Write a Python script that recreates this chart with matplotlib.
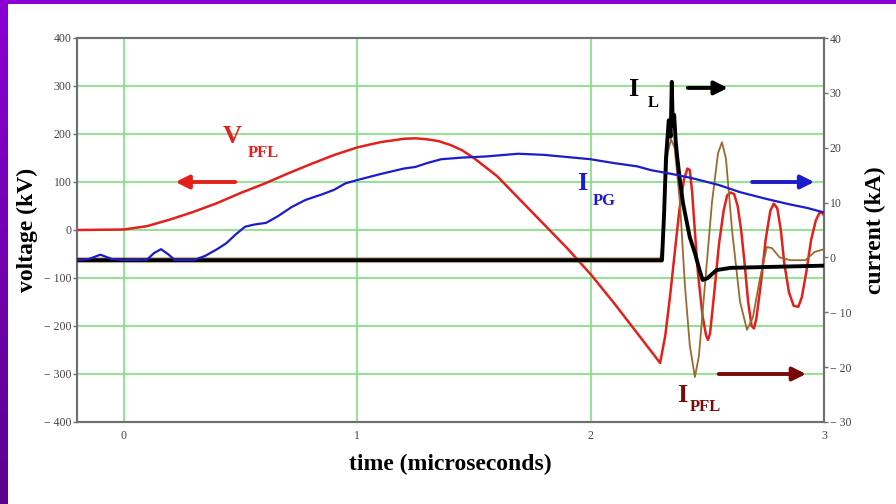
import numpy as np
import matplotlib
matplotlib.use('Agg')
import matplotlib.pyplot as plt

plt.rcParams['font.family'] = ['Liberation Serif', 'DejaVu Serif']

# V_PFL (kV, left axis)
t_vpfl = [-0.2, 0.0, 0.1, 0.2, 0.3, 0.4, 0.5, 0.6, 0.7, 0.8, 0.9, 1.0, 1.1, 1.2, 1.25,
          1.3, 1.35, 1.4, 1.45, 1.5, 1.6, 1.7, 1.8, 1.9, 2.0, 2.1, 2.2, 2.298,
          2.32, 2.34, 2.36, 2.38, 2.40, 2.415, 2.425, 2.435, 2.445, 2.46, 2.48, 2.495, 2.503,
          2.512, 2.53, 2.55, 2.57, 2.585, 2.60, 2.615, 2.63, 2.645, 2.66, 2.675, 2.69, 2.70,
          2.71, 2.73, 2.75, 2.77, 2.785, 2.80, 2.815, 2.83, 2.85, 2.87, 2.89, 2.905, 2.925,
          2.945, 2.965, 2.98, 2.99, 3.0]
v_pfl = [0, 1, 8, 22, 38, 56, 77, 96, 117, 137, 156, 172, 183, 190, 191,
         189, 185, 177, 166, 150, 112, 62, 12, -38, -92, -152, -215, -277,
         -220, -140, -50, 40, 105, 128, 125, 80, 10, -90, -180, -220, -229,
         -215, -130, -30, 40, 72, 78, 75, 50, 0, -70, -150, -200, -205,
         -185, -110, -20, 40, 55, 45, 0, -70, -130, -158, -160, -140, -85,
         -20, 20, 35, 37, 30]

# I_PG (kA, right axis)
t_ipg = [-0.2, -0.15, -0.1, -0.05, 0.0, 0.1, 0.13, 0.16, 0.19, 0.22, 0.3, 0.35, 0.4, 0.44,
         0.48, 0.52, 0.56, 0.61, 0.66, 0.72, 0.78, 0.85, 0.9, 0.95, 1.0, 1.1, 1.2, 1.25,
         1.3, 1.36, 1.45, 1.55, 1.69, 1.8, 1.9, 2.0, 2.1, 2.2, 2.26, 2.35, 2.43, 2.55,
         2.64, 2.75, 2.85, 2.93, 3.0]
i_pg = [-0.5, -0.3, 0.5, -0.3, -0.5, -0.4, 0.8, 1.5, 0.6, -0.5, -0.5, 0.3, 1.5, 2.6,
        4.2, 5.6, 6.0, 6.3, 7.5, 9.2, 10.5, 11.5, 12.3, 13.5, 14.1, 15.2, 16.2, 16.5,
        17.2, 17.9, 18.2, 18.4, 18.9, 18.7, 18.3, 17.9, 17.2, 16.6, 15.9, 15.2, 14.5, 13.2,
        11.9, 10.7, 9.7, 9.0, 8.2]

# I_L (kA, right axis)
t_il = [-0.2, 2.306, 2.315, 2.323, 2.335, 2.343, 2.348, 2.352, 2.358, 2.365, 2.372,
        2.383, 2.396, 2.425, 2.447, 2.468, 2.48, 2.5, 2.54, 2.6, 3.0]
i_l = [-0.5, -0.5, 8, 18, 25, 22, 32, 24, 26, 21, 18,
       14, 9.9, 3.7, 0.8, -2.5, -4.1, -3.8, -2.3, -1.9, -1.5]

# I_PFL (kA, right axis)
t_ipfl = [-0.2, 2.298, 2.306, 2.32, 2.33, 2.345, 2.36, 2.383, 2.404, 2.425, 2.447, 2.464,
          2.49, 2.52, 2.546, 2.563, 2.58, 2.606, 2.64, 2.67, 2.695, 2.725, 2.755, 2.777,
          2.81, 2.855, 2.92, 2.96, 3.0]
i_pfl = [-0.5, -0.5, 2, 12, 19, 21.5, 20, 10, -5, -16, -21.8, -18,
         -5, 10, 19, 21, 18, 5, -8, -13.2, -11, -4, 1.9, 1.7,
         0, -0.5, -0.5, 1, 1.5]

v_ticks = [400, 300, 200, 100, 0, -100, -200, -300, -400]
v_labels = ['400', '300', '200', '100', '0', '\u2212 100', '\u2212 200', '\u2212 300', '\u2212 400']
i_ticks = [40, 30, 20, 10, 0, -10, -20, -30]
i_labels = ['40', '30', '20', '10', '0', '\u2212 10', '\u2212 20', '\u2212 30']
t_ticks = [0, 1, 2, 3]

red = '#e3201c'
blue = '#1c1ccc'
brown = '#9a6a30'
maroon = '#7a0a0a'
grid_green = '#7ee07e'
spine_gray = '#707070'

fig = plt.figure(figsize=(8.96, 5.04), dpi=100)
fig.patch.set_facecolor('white')

# purple frame on the left and top
strip = fig.add_axes([0, 0, 8 / 896, 1])
strip.imshow(np.linspace(0, 1, 100).reshape(-1, 1), aspect='auto',
             cmap=matplotlib.colors.LinearSegmentedColormap.from_list('p', ['#8a00d2', '#5c008f']),
             extent=[0, 1, 0, 1])
strip.axis('off')
top = fig.add_axes([0, 1 - 4 / 504, 1, 4 / 504])
top.set_facecolor('#8a00d2')
top.set_xticks([]); top.set_yticks([])
for s in top.spines.values():
    s.set_visible(False)

ax = fig.add_axes([77 / 896, 82 / 504, 747 / 896, 384 / 504])
ax2 = ax.twinx()

ax.set_xlim(-0.2, 3)
ax.set_ylim(-400, 400)
ax2.set_ylim(-30, 40)

ax.set_xticks(t_ticks)
ax.set_yticks(v_ticks)
ax.set_yticklabels(v_labels)
ax2.set_yticks(i_ticks)
ax2.set_yticklabels(i_labels)

ax.grid(True, color=grid_green, lw=1.2)
ax.set_axisbelow(True)

for a in (ax, ax2):
    for s in a.spines.values():
        s.set_color(spine_gray)
        s.set_linewidth(1.5)
ax.tick_params(axis='y', direction='out', length=3, width=1, color=spine_gray,
               labelsize=8.5, labelcolor='#444444', pad=1)
ax.tick_params(axis='x', length=0, labelsize=8.5, labelcolor='#444444', pad=6)
ax2.tick_params(axis='y', direction='out', length=3, width=1, color=spine_gray,
                labelsize=8.5, labelcolor='#444444', pad=1)

# traces
ax.plot(t_vpfl, v_pfl, color=red, lw=1.8, zorder=3)
t_arr = np.array(t_ipfl)
i_arr = np.array(i_pfl)
base = t_arr <= 2.3
ax2.plot(t_arr[base], i_arr[base], color=brown, lw=4.5, alpha=0.45, zorder=1)
ax2.plot(t_ipfl, i_pfl, color=brown, lw=1.3, zorder=2)
ax2.plot(t_il, i_l, color='black', lw=2.8, zorder=3)
ax2.plot(t_ipg, i_pg, color=blue, lw=1.6, zorder=4)

# labels and arrows
bold = dict(fontweight='bold')
ax.text(0.466, 194, 'V', color=red, fontsize=19, ha='center', va='center', **bold)
ax.text(0.53, 160, 'PFL', color=red, fontsize=12, ha='left', va='center', **bold)
ax.annotate('', xy=(0.21, 100), xytext=(0.49, 100),
            arrowprops=dict(arrowstyle='-|>', color=red, lw=2.8, mutation_scale=20))

ax.text(1.964, 96, 'I', color=blue, fontsize=19, ha='center', va='center', **bold)
ax.text(2.008, 60, 'PG', color=blue, fontsize=12, ha='left', va='center', **bold)
ax.annotate('', xy=(2.97, 100), xytext=(2.68, 100),
            arrowprops=dict(arrowstyle='-|>', color=blue, lw=2.8, mutation_scale=20))

ax.text(2.182, 292, 'I', color='black', fontsize=19, ha='center', va='center', **bold)
ax.text(2.245, 265, 'L', color='black', fontsize=12, ha='left', va='center', **bold)
ax.annotate('', xy=(2.60, 296), xytext=(2.405, 296),
            arrowprops=dict(arrowstyle='-|>', color='black', lw=2.8, mutation_scale=20))

ax.text(2.392, -345, 'I', color=maroon, fontsize=19, ha='center', va='center', **bold)
ax.text(2.424, -369, 'PFL', color=maroon, fontsize=12, ha='left', va='center', **bold)
ax.annotate('', xy=(2.935, -300), xytext=(2.537, -300),
            arrowprops=dict(arrowstyle='-|>', color=maroon, lw=2.8, mutation_scale=20))

ax.set_xlabel('time (microseconds)', fontsize=17, fontweight='bold', labelpad=8)
ax.set_ylabel('voltage (kV)', fontsize=17, fontweight='bold', labelpad=4)
ax2.set_ylabel('current (kA)', fontsize=17, fontweight='bold', labelpad=10)

fig.savefig('out.png', dpi=100)
